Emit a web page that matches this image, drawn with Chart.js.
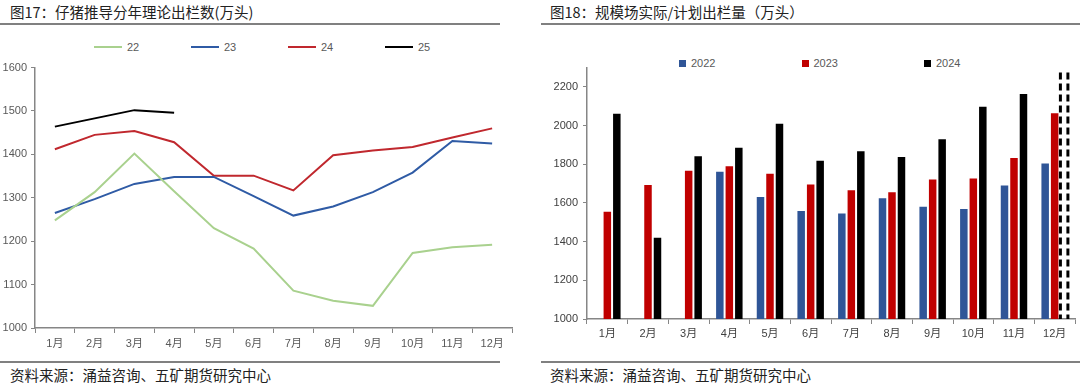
<!DOCTYPE html>
<html>
<head>
<meta charset="utf-8">
<script src="https://cdn.jsdelivr.net/npm/chart.js@4.4.1/dist/chart.umd.min.js"></script>
<style>
body { margin:0; width:1080px; height:387px; background:#fff; position:relative; overflow:hidden; font-family:"Noto Sans CJK SC", sans-serif; }
.title { position:absolute; top:2px; font-size:14.5px; line-height:20px; color:#222; }
.rule { position:absolute; height:2px; background:#808080; }
.src { position:absolute; top:365px; font-size:14.5px; line-height:20px; color:#222; }
.box { position:absolute; }
.lg { position:absolute; font-family:"Liberation Sans", sans-serif; font-size:11px; color:#595959; display:flex; align-items:center; line-height:14px; white-space:nowrap; }
.lg i { display:inline-block; margin-right:5px; }
</style>
</head>
<body>
<div class="title" style="left:10px">图17：仔猪推导分年理论出栏数(万头)</div>
<div class="title" style="left:550px">图18：规模场实际/计划出栏量（万头）</div>
<div class="rule" style="left:0;width:500px;top:23px"></div>
<div class="rule" style="left:541px;width:539px;top:23px"></div>
<div class="rule" style="left:0;width:500px;top:361px"></div>
<div class="rule" style="left:541px;width:539px;top:361px"></div>
<div class="src" style="left:10px">资料来源：涌益咨询、五矿期货研究中心</div>
<div class="src" style="left:550px">资料来源：涌益咨询、五矿期货研究中心</div>

<div id="legL"></div>
<div id="legR"></div>
<div class="box" style="left:0;top:57px;width:514px;height:301px"><canvas id="lineChart"></canvas></div>
<div class="box" style="left:540px;top:56px;width:537px;height:293px"><canvas id="barChart"></canvas></div>

<script>
// 图17 仔猪推导分年理论出栏数
const months = ['1月','2月','3月','4月','5月','6月','7月','8月','9月','10月','11月','12月'];
const y22 = [1248, 1313, 1402, 1315, 1230, 1183, 1086, 1063, 1051, 1173, 1186, 1192];
const y23 = [1265, 1297, 1332, 1348, 1348, 1304, 1259, 1280, 1313, 1358, 1431, 1425];
const y24 = [1412, 1445, 1454, 1428, 1351, 1351, 1317, 1398, 1409, 1417, 1439, 1460];
const y25 = [1464, 1483, 1502, 1496];
const lineNames = ['22', '23', '24', '25'];
const lineColors = ['#a9d18e', '#2f5ba5', '#c0282e', '#000000'];

// 图18 规模场实际/计划出栏量
const s2022 = [null, null, null, 1761, 1631, 1559, 1546, 1624, 1580, 1569, 1690, 1804];
const s2023 = [1554, 1693, 1767, 1790, 1751, 1695, 1666, 1656, 1722, 1727, 1833, 2064];
const s2024 = [2062, 1420, 1841, 1886, 2010, 1818, 1867, 1838, 1930, 2098, 2164, null];
const plan2024 = [null, null, null, null, null, null, null, null, null, null, null, 2290];
const barNames = ['2022', '2023', '2024'];
const barColors = ['#2f5597', '#c00000', '#000000'];

const axisGrey = '#868686';
const tickFont = { family: 'Liberation Sans, Noto Sans CJK SC', size: 11 };
const plain = v => String(v);

// legends (html)
const legL = document.getElementById('legL');
lineNames.forEach((n, i) => {
    const d = document.createElement('div');
    d.className = 'lg';
    d.style.left = (94 + 97 * i) + 'px';
    d.style.top = '40px';
    d.innerHTML = '<i style="width:28px;height:2px;background:' + lineColors[i] + '"></i>' + n;
    legL.appendChild(d);
});
const legR = document.getElementById('legR');
barNames.forEach((n, i) => {
    const d = document.createElement('div');
    d.className = 'lg';
    d.style.left = (679 + 122.5 * i) + 'px';
    d.style.top = '56px';
    d.innerHTML = '<i style="width:7px;height:7px;background:' + barColors[i] + '"></i>' + n;
    legR.appendChild(d);
});

const xGrid = { display: true, offset: true, drawOnChartArea: false, drawTicks: true, tickLength: 5, color: axisGrey };
const yGrid = { display: true, drawOnChartArea: false, drawTicks: true, tickLength: 4, color: axisGrey };

new Chart(document.getElementById('lineChart'), {
    type: 'line',
    data: {
        labels: months,
        datasets: [y22, y23, y24, y25].map((d, i) => ({
            label: lineNames[i],
            data: d,
            borderColor: lineColors[i],
            backgroundColor: lineColors[i],
            borderWidth: 2,
            pointRadius: 0,
            tension: 0,
            fill: false
        }))
    },
    options: {
        responsive: true,
        maintainAspectRatio: false,
        animation: false,
        layout: { padding: { top: 8, right: 2, left: 0, bottom: 0 } },
        plugins: { legend: { display: false }, tooltip: { enabled: false } },
        scales: {
            x: {
                offset: true,
                grid: xGrid,
                border: { color: axisGrey, width: 1.5 },
                ticks: { color: '#595959', font: tickFont, padding: 4, maxRotation: 0 },
                afterFit: s => { s.height = 30; }
            },
            y: {
                min: 1000, max: 1600,
                grid: yGrid,
                border: { color: axisGrey, width: 1.5 },
                ticks: { stepSize: 100, color: '#595959', font: tickFont, padding: 4, callback: plain },
                afterFit: s => { s.width = 35; }
            }
        }
    }
});

// dashed outline for planned 2024 volume
const dashPlan = {
    id: 'dashPlan',
    afterDatasetsDraw(chart) {
        const meta = chart.getDatasetMeta(2);
        const ctx = chart.ctx;
        const area = chart.chartArea;
        ctx.save();
        ctx.beginPath();
        ctx.rect(area.left, area.top, area.right - area.left + 4, area.bottom - area.top);
        ctx.clip();
        ctx.strokeStyle = '#000';
        ctx.lineWidth = 3;
        ctx.setLineDash([7, 4]);
        plan2024.forEach((v, i) => {
            if (v == null) return;
            const p = meta.data[i].getProps(['x', 'y', 'base', 'width'], true);
            [p.x - p.width / 2, p.x + p.width / 2].forEach(px => {
                ctx.beginPath();
                ctx.moveTo(px, p.base - 4);
                ctx.lineTo(px, p.y);
                ctx.stroke();
            });
        });
        ctx.restore();
    }
};

new Chart(document.getElementById('barChart'), {
    type: 'bar',
    data: {
        labels: months,
        datasets: [
            { label: barNames[0], data: s2022, backgroundColor: barColors[0] },
            { label: barNames[1], data: s2023, backgroundColor: barColors[1] },
            {
                label: barNames[2],
                data: s2024.map((v, i) => v ?? plan2024[i]),
                backgroundColor: c => (c.dataIndex != null && plan2024[c.dataIndex] != null) ? 'rgba(0,0,0,0)' : barColors[2]
            }
        ]
    },
    options: {
        responsive: true,
        maintainAspectRatio: false,
        animation: false,
        barPercentage: 0.79,
        categoryPercentage: 0.7,
        layout: { padding: { top: 8, right: 2, left: 0, bottom: 0 } },
        plugins: { legend: { display: false }, tooltip: { enabled: false } },
        scales: {
            x: {
                grid: xGrid,
                border: { color: axisGrey, width: 1.5 },
                ticks: { color: '#404040', font: tickFont, padding: 3, maxRotation: 0 },
                afterFit: s => { s.height = 30; }
            },
            y: {
                min: 1000, max: 2300,
                grid: yGrid,
                border: { color: axisGrey, width: 1.5 },
                ticks: { stepSize: 200, color: '#404040', font: tickFont, padding: 5, callback: plain },
                afterBuildTicks: s => { s.ticks = s.ticks.filter(t => t.value % 200 === 0); },
                afterFit: s => { s.width = 47; }
            }
        }
    },
    plugins: [dashPlan]
});
</script>
</body>
</html>
